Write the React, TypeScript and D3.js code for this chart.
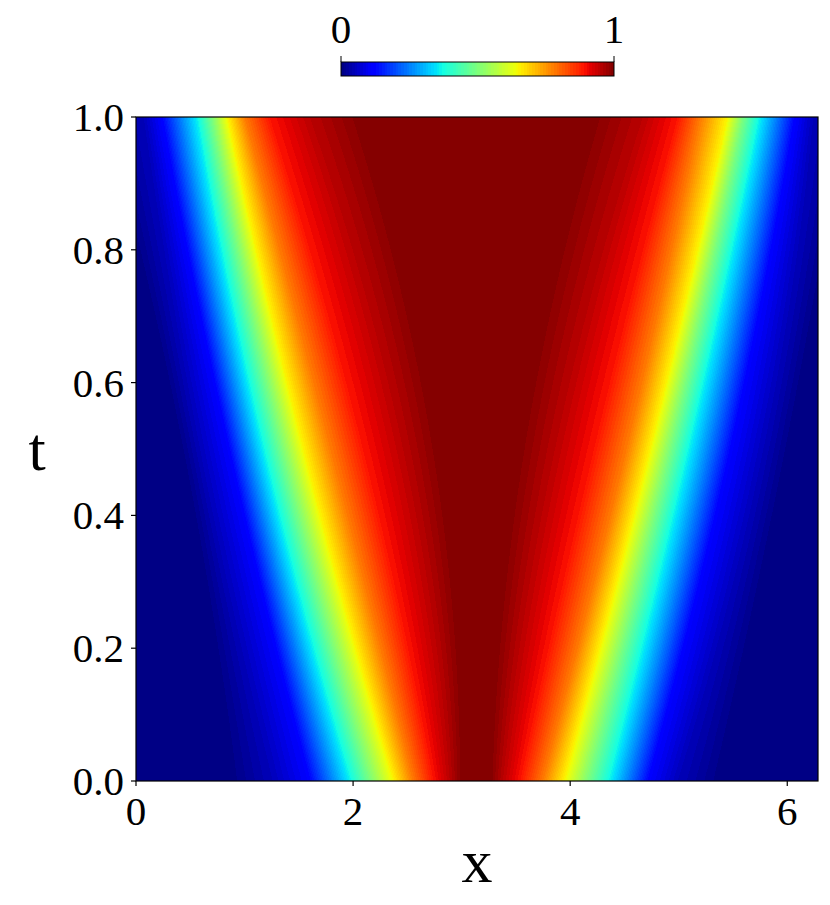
import React, { useMemo } from "react";
import * as d3 from "d3";

// contour levels of u(x,t) and where each level sits (x) on the left and right flanks,
// read at t = 0, 0.5 and 1
const levels = [0, 0.05, 0.11, 0.36, 0.5, 0.65, 0.78, 0.89, 0.95, 1.0];
const tRows = [0, 0.5, 1];
const leftT0 = [0.85, 1.26, 1.58, 1.97, 2.16, 2.37, 2.55, 2.74, 2.89, 3.01];
const leftT05 = [0.4, 0.59, 0.84, 1.17, 1.35, 1.54, 1.79, 2.09, 2.46, 2.8];
const leftT1 = [-0.35, 0.07, 0.22, 0.56, 0.7, 0.84, 1.0, 1.23, 1.6, 2.09];
const rightT0 = [5.4, 4.99, 4.74, 4.37, 4.16, 3.95, 3.75, 3.54, 3.38, 3.26];
const rightT05 = [6.03, 5.78, 5.5, 5.1, 4.92, 4.74, 4.52, 4.22, 3.86, 3.51];
const rightT1 = [6.6, 6.24, 6.09, 5.75, 5.59, 5.45, 5.2, 4.99, 4.67, 4.18];

const xTicks = [0, 2, 4, 6];
const xTickLabels = ["0", "2", "4", "6"];
const yTicks = [0, 0.2, 0.4, 0.6, 0.8, 1.0];
const yTickLabels = ["0.0", "0.2", "0.4", "0.6", "0.8", "1.0"];
const cbTicks = [0, 1];
const cbTickLabels = ["0", "1"];
const xLabel = "x";
const yLabel = "t";

const NLEVELS = 100;
const FONT = "'Liberation Serif', 'DejaVu Serif', serif";

const W = 830;
const H = 905;
const PL = 136;
const PR = 818;
const PT = 117;
const PB = 781;

// matplotlib "jet"
const rCh = d3.scaleLinear().domain([0, 0.35, 0.66, 0.89, 1]).range([0, 0, 1, 1, 0.5]).clamp(true);
const gCh = d3.scaleLinear().domain([0, 0.125, 0.375, 0.64, 0.91, 1]).range([0, 0, 1, 1, 0, 0]).clamp(true);
const bCh = d3.scaleLinear().domain([0, 0.11, 0.34, 0.65, 1]).range([0.5, 1, 1, 0, 0]).clamp(true);
function jet(v: number): [number, number, number] {
  return [Math.round(rCh(v) * 255), Math.round(gCh(v) * 255), Math.round(bCh(v) * 255)];
}
function jetCss(v: number) {
  const [r, g, b] = jet(v);
  return `rgb(${r},${g},${b})`;
}

function rowPositions(a0: number[], a05: number[], a1: number[], t: number) {
  const [t0, t1, t2] = tRows;
  const l0 = ((t - t1) * (t - t2)) / ((t0 - t1) * (t0 - t2));
  const l1 = ((t - t0) * (t - t2)) / ((t1 - t0) * (t1 - t2));
  const l2 = ((t - t0) * (t - t1)) / ((t2 - t0) * (t2 - t1));
  return a0.map((_, i) => a0[i] * l0 + a05[i] * l1 + a1[i] * l2);
}

function valueAt(x: number, L: number[], R: number[]) {
  let vl: number;
  if (x <= L[0]) vl = levels[0];
  else if (x >= L[L.length - 1]) vl = levels[levels.length - 1];
  else {
    vl = 0;
    for (let i = 0; i < L.length - 1; i++) {
      if (x >= L[i] && x < L[i + 1]) {
        vl = levels[i] + ((x - L[i]) / (L[i + 1] - L[i])) * (levels[i + 1] - levels[i]);
        break;
      }
    }
  }
  let vr: number;
  if (x >= R[0]) vr = levels[0];
  else if (x <= R[R.length - 1]) vr = levels[levels.length - 1];
  else {
    vr = 0;
    for (let i = 0; i < R.length - 1; i++) {
      if (x <= R[i] && x > R[i + 1]) {
        vr = levels[i] + ((R[i] - x) / (R[i] - R[i + 1])) * (levels[i + 1] - levels[i]);
        break;
      }
    }
  }
  return Math.min(vl, vr);
}

export default function App() {
  const xScale = d3.scaleLinear().domain([0, 2 * Math.PI]).range([PL, PR]);
  const yScale = d3.scaleLinear().domain([0, 1]).range([PB, PT]);

  const url = useMemo(() => {
    const w = PR - PL;
    const h = PB - PT;
    const canvas = document.createElement("canvas");
    canvas.width = w;
    canvas.height = h;
    const ctx = canvas.getContext("2d");
    if (!ctx) return "";
    const img = ctx.createImageData(w, h);
    for (let py = 0; py < h; py++) {
      const t = yScale.invert(PT + py + 0.5);
      const L = rowPositions(leftT0, leftT05, leftT1, t);
      const R = rowPositions(rightT0, rightT05, rightT1, t);
      for (let px = 0; px < w; px++) {
        const x = xScale.invert(PL + px + 0.5);
        let v = valueAt(x, L, R);
        v = Math.min(NLEVELS - 1, Math.floor(v * NLEVELS));
        const [r, g, b] = jet((v + 0.5) / NLEVELS);
        const k = (py * w + px) * 4;
        img.data[k] = r;
        img.data[k + 1] = g;
        img.data[k + 2] = b;
        img.data[k + 3] = 255;
      }
    }
    ctx.putImageData(img, 0, 0);
    return canvas.toDataURL();
  }, []);

  const cbScale = d3.scaleLinear().domain([0, 1]).range([341, 614]);
  const cbStops = d3.range(NLEVELS).map((i) => ({
    o0: i / NLEVELS,
    o1: (i + 1) / NLEVELS,
    c: jetCss((i + 0.5) / NLEVELS),
  }));

  return (
    <svg width={W} height={H} style={{ position: "absolute", left: 0, top: 0 }} fontFamily={FONT}>
      <rect x={0} y={0} width={W} height={H} fill="#fff" />
      <defs>
        <linearGradient id="jetcb" x1="0" x2="1" y1="0" y2="0">
          {cbStops.map((s, i) => (
            <React.Fragment key={i}>
              <stop offset={s.o0} stopColor={s.c} />
              <stop offset={s.o1} stopColor={s.c} />
            </React.Fragment>
          ))}
        </linearGradient>
      </defs>
      <image href={url} x={PL} y={PT} width={PR - PL} height={PB - PT} preserveAspectRatio="none" />
      <rect x={PL} y={PT} width={PR - PL} height={PB - PT} fill="none" stroke="#000" strokeWidth={1.2} />
      {xTicks.map((v, i) => (
        <g key={"x" + i}>
          <line x1={xScale(v)} x2={xScale(v)} y1={PB} y2={PB + 5} stroke="#000" strokeWidth={1.2} />
          <text x={xScale(v)} y={PB + 44} textAnchor="middle" fontSize={41}>
            {xTickLabels[i]}
          </text>
        </g>
      ))}
      {yTicks.map((v, i) => (
        <g key={"y" + i}>
          <line x1={PL - 5} x2={PL} y1={yScale(v)} y2={yScale(v)} stroke="#000" strokeWidth={1.2} />
          <text x={PL - 12} y={yScale(v) + 14} textAnchor="end" fontSize={41}>
            {yTickLabels[i]}
          </text>
        </g>
      ))}
      <text x={(PL + PR) / 2} y={882} textAnchor="middle" fontSize={62}>
        {xLabel}
      </text>
      <text x={37} y={470} textAnchor="middle" fontSize={62}>
        {yLabel}
      </text>
      <rect x={cbScale(0)} y={62} width={cbScale(1) - cbScale(0)} height={14} fill="url(#jetcb)" stroke="#000" strokeWidth={1} />
      {cbTicks.map((v, i) => (
        <g key={"c" + i}>
          <line x1={cbScale(v)} x2={cbScale(v)} y1={62} y2={56} stroke="#000" strokeWidth={1} />
          <text x={cbScale(v)} y={43} textAnchor="middle" fontSize={41}>
            {cbTickLabels[i]}
          </text>
        </g>
      ))}
    </svg>
  );
}
